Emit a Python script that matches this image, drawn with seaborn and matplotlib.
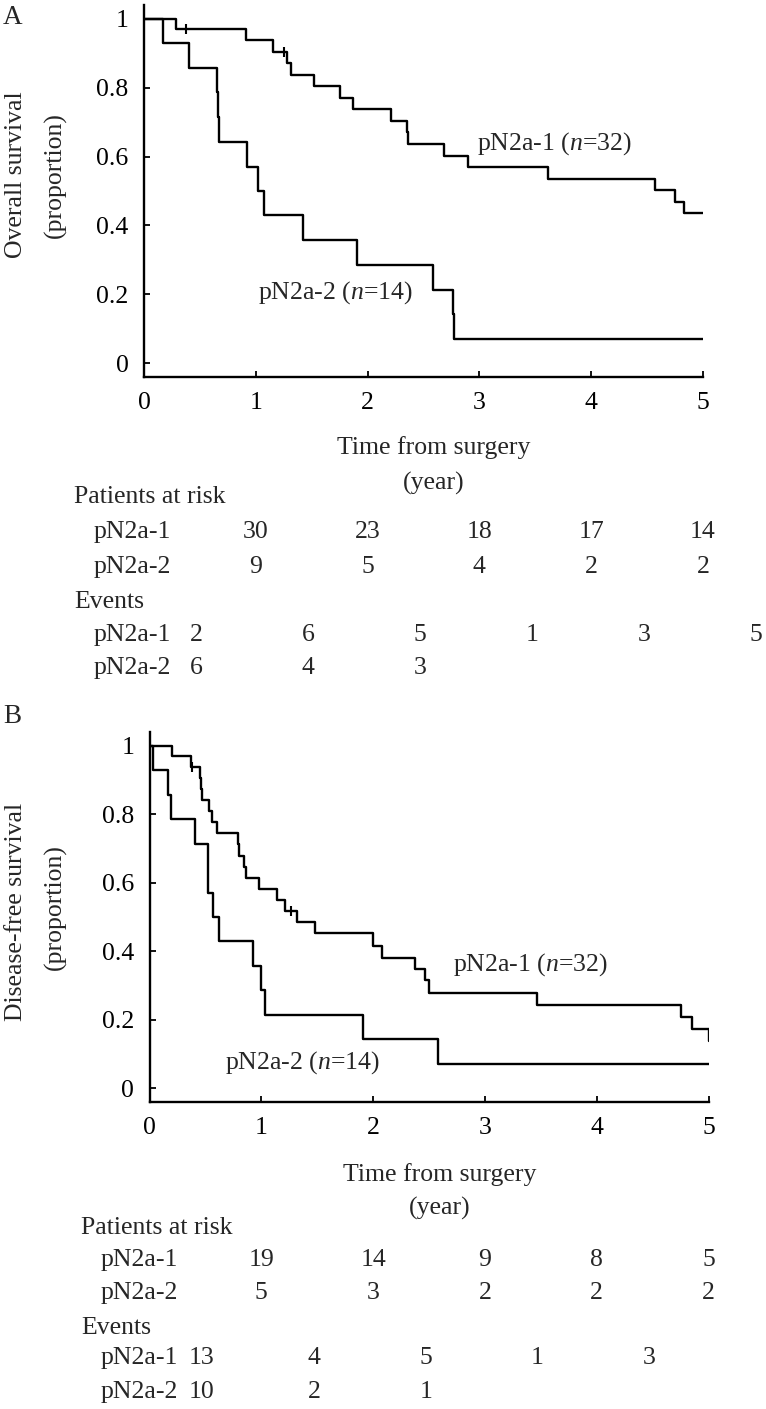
import matplotlib
matplotlib.use('Agg')
import numpy as np
import pandas as pd
import matplotlib.pyplot as plt
import seaborn as sns
from matplotlib.transforms import blended_transform_factory

sns.set_style('ticks')
plt.rcParams['font.family'] = ['Liberation Serif', 'DejaVu Serif']
plt.rcParams['mathtext.fontset'] = 'custom'
plt.rcParams['mathtext.rm'] = 'Liberation Serif'
plt.rcParams['mathtext.it'] = 'Liberation Serif:italic'

# --- data ---
groups = ['pN2a-1', 'pN2a-2']
years = [0, 1, 2, 3, 4, 5]
yticks = [0, 0.2, 0.4, 0.6, 0.8, 1]
ytick_labels = ['0', '0.2', '0.4', '0.6', '0.8', '1']

# A: overall survival
os1_time = [0, 0.286, 0.912, 1.151, 1.275, 1.312, 1.52, 1.753, 1.872, 2.206, 2.35, 2.36,
            2.683, 2.90, 3.617, 4.571, 4.75, 4.83, 5.0]
os1_surv = [1.0, 0.969, 0.937, 0.905, 0.871, 0.837, 0.804, 0.770, 0.737, 0.703, 0.670, 0.636,
            0.603, 0.570, 0.536, 0.503, 0.469, 0.436, 0.436]
os1_cens_time = [0.376, 1.252]
os1_cens_surv = [0.969, 0.905]

os2_time = [0, 0.167, 0.405, 0.656, 0.662, 0.668, 0.918, 1.023, 1.073, 1.425, 1.908, 2.583,
            2.761, 2.77, 5.0]
os2_surv = [1.0, 0.929, 0.857, 0.786, 0.714, 0.643, 0.571, 0.5, 0.429, 0.357, 0.286, 0.214,
            0.143, 0.071, 0.071]

os_risk = [[30, 23, 18, 17, 14], [9, 5, 4, 2, 2]]
os_events = [[2, 6, 5, 1, 3, 5], [6, 4, 3]]

# B: disease-free survival
dfs1_time = [0, 0.198, 0.368, 0.455, 0.462, 0.47, 0.532, 0.562, 0.607, 0.795, 0.80, 0.848,
             0.863, 0.982, 1.138, 1.212, 1.317, 1.48, 2.002, 2.077, 2.375, 2.464, 2.503,
             3.463, 4.751, 4.855, 5.0]
dfs1_surv = [1.0, 0.969, 0.938, 0.905, 0.873, 0.841, 0.809, 0.776, 0.744, 0.712, 0.679, 0.647,
             0.615, 0.582, 0.550, 0.518, 0.485, 0.453, 0.416, 0.380, 0.348, 0.317, 0.278,
             0.242, 0.207, 0.174, 0.138]
dfs1_cens_time = [0.38, 1.263]
dfs1_cens_surv = [0.938, 0.518]

dfs2_time = [0, 0.034, 0.168, 0.192, 0.407, 0.52, 0.525, 0.565, 0.625, 0.923, 0.994, 1.033,
             1.907, 2.583, 5.0]
dfs2_surv = [1.0, 0.929, 0.857, 0.786, 0.714, 0.643, 0.571, 0.5, 0.429, 0.357, 0.286, 0.214,
             0.143, 0.071, 0.071]

dfs_risk = [[19, 14, 9, 8, 5], [5, 3, 2, 2, 2]]
dfs_events = [[13, 4, 5, 1, 3], [10, 2, 1]]

W, H = 766, 1409
FS = 18.5


def fx(px):
    return px / W


def fy(py):
    return 1 - py / H


fig = plt.figure(figsize=(W / 100, H / 100), dpi=100)
axA = fig.add_axes([fx(144), fy(377), 559 / W, 372 / H])
axB = fig.add_axes([fx(149.5), fy(1102), 559 / W, 370 / H])


def km_panel(ax, curves, cens):
    for t, s in curves:
        sns.lineplot(x=t, y=s, drawstyle='steps-post', color='black', lw=1.7,
                     estimator=None, sort=False, ax=ax)
    ct, cs = cens
    sns.scatterplot(x=ct, y=cs, marker='|', s=45, color='black', linewidth=1.5, ax=ax)
    ax.set_xlim(0, 5)
    ax.set_ylim(-0.04, 1.04)
    ax.set_xticks(years)
    ax.set_xticklabels([str(y) for y in years])
    ax.set_yticks(yticks)
    ax.set_yticklabels(ytick_labels)
    ax.tick_params(direction='in', length=4, width=1.3, pad=11, labelsize=FS, colors='black')
    for side in ['top', 'right']:
        ax.spines[side].set_visible(False)
    for side in ['left', 'bottom']:
        ax.spines[side].set_linewidth(1.7)
        ax.spines[side].set_color('black')
    ax.set_xlabel('')
    ax.set_ylabel('')


km_panel(axA, [(os1_time, os1_surv), (os2_time, os2_surv)], (os1_cens_time, os1_cens_surv))
km_panel(axB, [(dfs1_time, dfs1_surv), (dfs2_time, dfs2_surv)], (dfs1_cens_time, dfs1_cens_surv))

# curve labels
axA.text(2.976, 0.639, r'pN2a-1 ($n$=32)', fontsize=FS, ha='left', va='center')
axA.text(1.022, 0.206, r'pN2a-2 ($n$=14)', fontsize=FS, ha='left', va='center')
axB.text(2.717, 0.361, r'pN2a-1 ($n$=32)', fontsize=FS, ha='left', va='center')
axB.text(0.675, 0.075, r'pN2a-2 ($n$=14)', fontsize=FS, ha='left', va='center')

# panel letters and axis titles
fig.text(fx(3), fy(17), 'A', fontsize=FS + 1, ha='left', va='center')
fig.text(fx(3), fy(717), 'B', fontsize=FS + 1, ha='left', va='center')
fig.text(fx(16), fy(175), 'Overall survival', rotation=90, fontsize=FS, ha='center', va='center')
fig.text(fx(55), fy(175), '(proportion)', rotation=90, fontsize=FS, ha='center', va='center')
fig.text(fx(16), fy(912), 'Disease-free survival', rotation=90, fontsize=FS, ha='center', va='center')
fig.text(fx(55), fy(907), '(proportion)', rotation=90, fontsize=FS, ha='center', va='center')


def table(ax, x_title, y_rows, risk, events, x_label, x_head):
    (y_t1, y_t2, y_head1, y_r1, y_r2, y_head2, y_e1, y_e2) = y_rows
    fig.text(fx(x_title), fy(y_t1), 'Time from surgery', fontsize=FS, ha='center', va='center')
    fig.text(fx(x_title), fy(y_t2), '(year)', fontsize=FS, ha='center', va='center')
    fig.text(fx(x_head), fy(y_head1), 'Patients at risk', fontsize=FS, ha='left', va='center')
    fig.text(fx(x_head), fy(y_head2), 'Events', fontsize=FS, ha='left', va='center')
    trans = blended_transform_factory(ax.transData, fig.transFigure)
    for g, yr, ye, rv, ev in zip(groups, [y_r1, y_r2], [y_e1, y_e2], risk, events):
        fig.text(fx(x_label), fy(yr), g, fontsize=FS, ha='left', va='center')
        fig.text(fx(x_label), fy(ye), g, fontsize=FS, ha='left', va='center')
        for k, v in enumerate(rv):
            ax.text(k + 1, fy(yr), str(v), transform=trans, fontsize=FS, ha='center', va='center')
        for k, v in enumerate(ev):
            ax.text(k + 0.47, fy(ye), str(v), transform=trans, fontsize=FS, ha='center', va='center')


table(axA, 434, [448, 483, 497, 532, 567, 602, 635, 668], os_risk, os_events, 94, 74)
table(axB, 440, [1175, 1208, 1228, 1260, 1293, 1328, 1358, 1392], dfs_risk, dfs_events, 101, 81)

fig.savefig('out.png', dpi=100)
